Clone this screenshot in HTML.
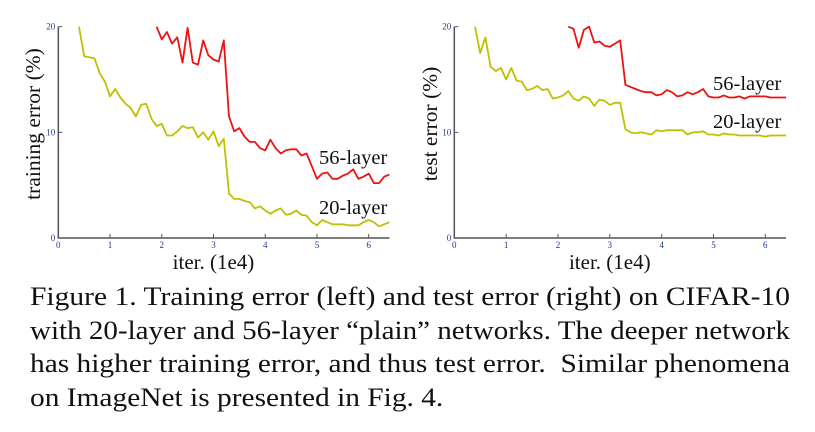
<!DOCTYPE html>
<html><head><meta charset="utf-8"><style>
html,body{margin:0;padding:0;background:#fff;width:815px;height:432px;overflow:hidden}
.cap{position:absolute;left:30px;font-family:"Liberation Serif",serif;font-size:26.5px;color:#111;white-space:nowrap;line-height:1;transform-origin:0 0}
</style></head><body>
<svg id="svg" width="815" height="432" style="position:absolute;left:0;top:0"></svg>
<div class="cap" style="top:283px">Figure 1. Training error (left) and test error (right) on CIFAR-10</div>
<div class="cap" style="top:317px">with 20-layer and 56-layer “plain” networks. The deeper network</div>
<div class="cap" style="top:350px">has higher training error, and thus test error.&nbsp; Similar phenomena</div>
<div class="cap" style="top:384px">on ImageNet is presented in Fig. 4.</div>
<script>
const xTicks=[0,1,2,3,4,5,6];
const yTicks=[0,10,20];
const trainX20Start=0.4;
const train20=[20,17.2,17.1,17.0,15.6,14.8,13.4,14.1,13.3,12.7,12.3,11.5,12.6,12.7,11.3,10.6,10.8,9.7,9.7,10.1,10.6,10.4,10.5,9.5,10.0,9.3,10.1,8.7,9.4,4.2,3.7,3.7,3.5,3.4,2.8,3.0,2.6,2.3,2.6,2.8,2.2,2.3,2.6,2.2,2.1,1.5,1.2,1.7,1.5,1.3,1.3,1.3,1.2,1.2,1.2,1.5,1.7,1.5,1.1,1.3,1.5];
const trainX56Start=1.9;
const train56=[20,18.8,19.5,18.4,19.0,16.6,19.9,16.6,16.4,18.7,17.3,16.9,16.7,18.7,11.5,10.1,10.4,9.6,9.1,9.1,8.5,8.3,9.3,8.5,8.0,8.3,8.4,8.4,7.8,8.0,6.8,5.6,6.1,6.2,5.6,5.6,5.9,6.1,6.5,5.6,5.8,6.1,5.2,5.2,5.8,6.0];
const testX20Start=0.4;
const test20=[20,17.5,19.0,16.2,15.8,16.1,15.0,16.1,14.9,14.8,14.0,14.1,14.4,14.0,14.1,13.2,13.3,13.5,13.9,13.2,13.0,13.4,13.2,12.5,13.1,13.0,12.6,12.8,12.8,10.3,10.0,9.9,10.0,9.9,9.8,10.2,10.1,10.2,10.2,10.2,10.2,9.8,10.0,10.0,10.1,9.8,9.8,9.7,9.9,9.8,9.8,9.7,9.7,9.7,9.7,9.7,9.6,9.7,9.7,9.7,9.7];
const testX56Start=2.2;
const test56=[20,19.8,18.0,19.7,20,18.5,18.6,18.2,18.1,18.4,18.7,14.5,14.3,14.1,13.9,13.8,13.8,13.5,13.6,14.0,13.8,13.4,13.5,13.8,13.6,13.8,14.1,13.4,13.3,13.3,13.5,13.3,13.3,13.4,13.2,13.4,13.4,13.4,13.4,13.3,13.3,13.3,13.3];
const xStep=0.1;

const NS="http://www.w3.org/2000/svg";
const svg=document.getElementById('svg');
function mk(tag,attrs,parent){const e=document.createElementNS(NS,tag);for(const k in attrs)e.setAttribute(k,attrs[k]);(parent||svg).appendChild(e);return e;}
function chart(p){
  const g=mk('g',{});
  
  
  const X=v=>p.x0+(v/6)*(p.x6-p.x0);
  const Y=v=>238-(v/20)*(238-26.7);
  p.series.forEach(s=>{
    const pts=s.data.map((v,i)=>X(s.start+i*xStep).toFixed(1)+','+Y(v).toFixed(1)).join(' ');
    const pl=mk('polyline',{points:pts,fill:'none',stroke:s.color,'stroke-width':1.8,'stroke-linejoin':'round'},g);
    
    
  });
  const ax=mk('path',{d:`M${X(0)},${Y(20)} V238 H${X(6.4)}`,fill:'none',stroke:'#555','stroke-width':1.5},g);
  
  
  xTicks.forEach(t=>{
    mk('line',{x1:X(t),x2:X(t),y1:238,y2:234,stroke:'#555','stroke-width':1},g);
    const tx=mk('text',{x:X(t),y:248,'font-size':9,'text-anchor':'middle','font-family':'Liberation Serif, serif',fill:'#1a3a8a'},g);
    tx.textContent=t;
    
    
  });
  yTicks.forEach(t=>{
    mk('line',{x1:X(0),x2:X(0)+4,y1:Y(t),y2:Y(t),stroke:'#555','stroke-width':1},g);
    const tx=mk('text',{x:X(0)-3,y:Y(t)+3,'font-size':9,'text-anchor':'end','font-family':'Liberation Serif, serif',fill:'#1a3a8a'},g);
    tx.textContent=t;
    
    
  });
  const xt=mk('text',{x:X(3),y:269,'font-size':21,'text-anchor':'middle','font-family':'Liberation Serif, serif',fill:'#111'},g);
  xt.textContent='iter. (1e4)';
  
  
  const yt=mk('text',{x:0,y:0,'font-size':21.5,'text-anchor':'middle','font-family':'Liberation Serif, serif',fill:'#111',transform:`translate(${p.ytx},124) rotate(-90)`},g);
  yt.textContent=p.ytitle;
  
  
  p.labels.forEach(l=>{
    const t=mk('text',{x:l.x,y:l.y,'font-size':20.5,'font-family':'Liberation Serif, serif',fill:'#111'},g);
    t.textContent=l.t;
    
    
  });
}
chart({name:'training-error-chart',x0:58.3,x6:368.7,ytitle:'training error (%)',ytx:40,
  series:[{name:'train-20-layer-line',data:train20,start:trainX20Start,color:'#c0c000'},{name:'train-56-layer-line',data:train56,start:trainX56Start,color:'#ee1111'}],
  labels:[{t:'56-layer',x:319,y:164},{t:'20-layer',x:319,y:214}]});
chart({name:'test-error-chart',x0:454.3,x6:765.3,ytitle:'test error (%)',ytx:437,
  series:[{name:'test-20-layer-line',data:test20,start:testX20Start,color:'#c0c000'},{name:'test-56-layer-line',data:test56,start:testX56Start,color:'#ee1111'}],
  labels:[{t:'56-layer',x:713,y:90},{t:'20-layer',x:713,y:128}]});
// fit caption lines to justified width
const caps=document.querySelectorAll('.cap');
let f=1;
caps.forEach((c,i)=>{
  const w=c.getBoundingClientRect().width;
  if(i<3){f=760/w;}
  c.style.transform='scaleX('+f.toFixed(4)+')';
});
</script>
</body></html>
